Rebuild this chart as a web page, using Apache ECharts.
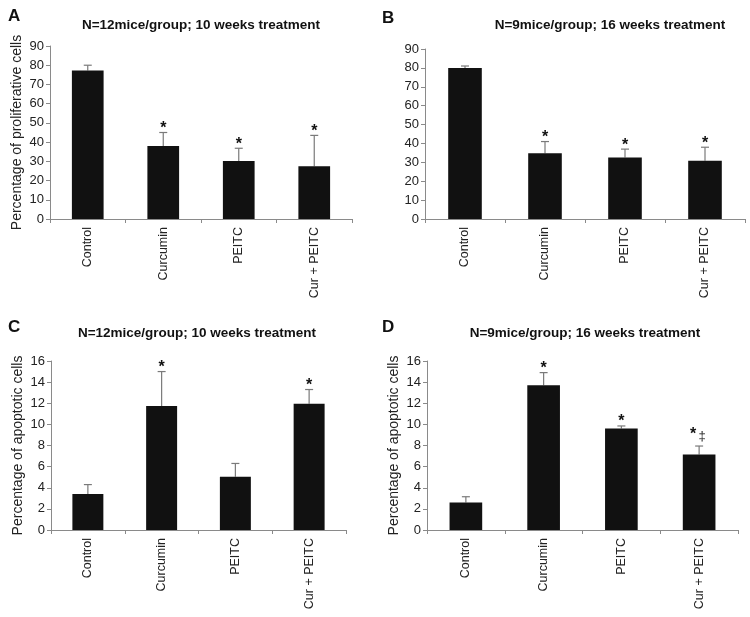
<!DOCTYPE html>
<html>
<head>
<meta charset="utf-8">
<script src="https://cdn.jsdelivr.net/npm/echarts@6/dist/echarts.min.js"></script>
<style>
  html, body { margin: 0; padding: 0; background: #fff; }
  #main { width: 750px; height: 617px; }
</style>
</head>
<body>
<div id="main"></div>
<script>
var categories = ['Control', 'Curcumin', 'PEITC', 'Cur + PEITC'];

// A: proliferative cells, 10 weeks
var meanA = [77.2, 38.0, 30.2, 27.5];
var errTopA = [80.0, 45.0, 36.8, 43.5];
var starsA = ['', '*', '*', '*'];

// B: proliferative cells, 16 weeks
var meanB = [80.0, 34.8, 32.6, 30.8];
var errTopB = [81.0, 41.0, 37.0, 38.0];
var starsB = ['', '*', '*', '*'];

// C: apoptotic cells, 10 weeks
var meanC = [3.4, 11.75, 5.05, 11.95];
var errTopC = [4.3, 15.0, 6.3, 13.3];
var starsC = ['', '*', '', '*'];

// D: apoptotic cells, 16 weeks
var meanD = [2.6, 13.7, 9.6, 7.15];
var errTopD = [3.15, 14.9, 9.85, 7.95];
var starsD = ['', '*', '*', '*'];
var daggerD = ['', '', '', '‡'];

var ticksProlif = [0, 10, 20, 30, 40, 50, 60, 70, 80, 90];
var ticksApop = [0, 2, 4, 6, 8, 10, 12, 14, 16];

var FONT = "'Liberation Sans', Arial, sans-serif";

document.addEventListener('DOMContentLoaded', function () {
  var myChart = echarts.init(document.getElementById('main'));

  var panels = [
    {mean: meanA, err: errTopA, stars: starsA, dag: null, ticks: ticksProlif, yname: 'Percentage of proliferative cells',
     grid: {left: 50, top: 46, width: 302, height: 173}},
    {mean: meanB, err: errTopB, stars: starsB, dag: null, ticks: ticksProlif, yname: '',
     grid: {left: 425, top: 49, width: 320, height: 170}},
    {mean: meanC, err: errTopC, stars: starsC, dag: null, ticks: ticksApop, yname: 'Percentage of apoptotic cells',
     grid: {left: 51, top: 361, width: 295, height: 169}},
    {mean: meanD, err: errTopD, stars: starsD, dag: daggerD, ticks: ticksApop, yname: 'Percentage of apoptotic cells',
     grid: {left: 427, top: 361, width: 311, height: 169}}
  ];

  var grids = [], xAxes = [], yAxes = [], series = [];

  panels.forEach(function (p, k) {
    grids.push(p.grid);
    xAxes.push({
      type: 'category', gridIndex: k, data: categories,
      axisLine: {lineStyle: {color: '#8a8a8a', width: 1}},
      axisTick: {show: true, length: 4, lineStyle: {color: '#8a8a8a'}},
      axisLabel: {rotate: 90, margin: 8, color: '#222', fontSize: 12.5, fontFamily: FONT}
    });
    var step = p.ticks[1] - p.ticks[0];
    yAxes.push({
      type: 'value', gridIndex: k,
      min: p.ticks[0], max: p.ticks[p.ticks.length - 1], interval: step,
      name: p.yname, nameLocation: 'middle', nameGap: 26,
      nameTextStyle: {fontSize: 14, color: '#222', fontFamily: FONT},
      splitLine: {show: false},
      axisLine: {show: true, lineStyle: {color: '#8a8a8a', width: 1}},
      axisTick: {show: true, length: 4, lineStyle: {color: '#8a8a8a'}},
      axisLabel: {margin: 6, color: '#222', fontSize: 13, fontFamily: FONT}
    });
    series.push({
      type: 'bar', xAxisIndex: k, yAxisIndex: k,
      data: p.mean, barWidth: '42%',
      itemStyle: {color: '#111'}, silent: true
    });
    var errData = p.mean.map(function (v, i) {
      return [i, v, p.err[i], p.stars[i], p.dag ? p.dag[i] : ''];
    });
    series.push({
      type: 'custom', xAxisIndex: k, yAxisIndex: k, silent: true,
      data: errData,
      renderItem: function (params, api) {
        var i = api.value(0);
        var base = api.coord([i, api.value(1)]);
        var top = api.coord([i, api.value(2)]);
        var item = errData[params.dataIndex];
        var kids = [
          {type: 'line', shape: {x1: base[0], y1: base[1], x2: top[0], y2: top[1]},
           style: {stroke: '#7a7a7a', lineWidth: 1.2}},
          {type: 'line', shape: {x1: top[0] - 4, y1: top[1], x2: top[0] + 4, y2: top[1]},
           style: {stroke: '#7a7a7a', lineWidth: 1.2}}
        ];
        if (item[3]) {
          kids.push({type: 'text', x: top[0] - (item[4] ? 6 : 0), y: top[1] - (item[4] ? 11 : 4),
            style: {text: item[3], font: 'bold 16px ' + FONT, fill: '#111', align: 'center', verticalAlign: 'middle'}});
        }
        if (item[4]) {
          kids.push({type: 'text', x: top[0] + 3, y: top[1] - 10,
            style: {text: item[4], font: '13px ' + FONT, fill: '#222', align: 'center', verticalAlign: 'middle'}});
        }
        return {type: 'group', children: kids};
      }
    });
  });

  var titleFont = 'bold 13.5px ' + FONT;
  var letterFont = 'bold 17px ' + FONT;
  var option = {
    backgroundColor: '#fff',
    animation: false,
    grid: grids,
    xAxis: xAxes,
    yAxis: yAxes,
    series: series,
    graphic: [
      {type: 'text', x: 8, y: 16, style: {text: 'A', font: letterFont, fill: '#111', align: 'left', verticalAlign: 'middle'}},
      {type: 'text', x: 201, y: 25, style: {text: 'N=12mice/group; 10 weeks treatment', font: titleFont, fill: '#111', align: 'center', verticalAlign: 'middle'}},
      {type: 'text', x: 382, y: 18, style: {text: 'B', font: letterFont, fill: '#111', align: 'left', verticalAlign: 'middle'}},
      {type: 'text', x: 610, y: 25, style: {text: 'N=9mice/group; 16 weeks treatment', font: titleFont, fill: '#111', align: 'center', verticalAlign: 'middle'}},
      {type: 'text', x: 8, y: 327, style: {text: 'C', font: letterFont, fill: '#111', align: 'left', verticalAlign: 'middle'}},
      {type: 'text', x: 197, y: 333, style: {text: 'N=12mice/group; 10 weeks treatment', font: titleFont, fill: '#111', align: 'center', verticalAlign: 'middle'}},
      {type: 'text', x: 382, y: 327, style: {text: 'D', font: letterFont, fill: '#111', align: 'left', verticalAlign: 'middle'}},
      {type: 'text', x: 585, y: 333, style: {text: 'N=9mice/group; 16 weeks treatment', font: titleFont, fill: '#111', align: 'center', verticalAlign: 'middle'}}
    ]
  };
  myChart.setOption(option);
});
</script>
</body>
</html>
